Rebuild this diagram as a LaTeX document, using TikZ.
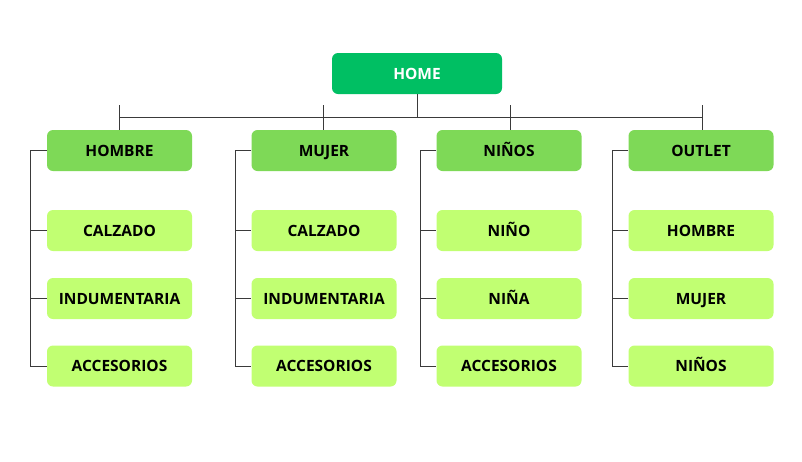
\documentclass[tikz,border=0pt]{standalone}
\usepackage{fontspec}
\setmainfont{Open Sans}
\begin{document}
\begin{tikzpicture}[x=1pt,y=-1pt,
  box/.style={rounded corners=6pt,minimum width=145pt,minimum height=41pt,inner sep=0pt,font=\fontsize{15.5}{18}\selectfont\bfseries,text=black,text height=11.2pt,text depth=0pt},
  homebox/.style={box,fill=homegreen,text=white,minimum width=170pt},
  headbox/.style={box,fill=headgreen},
  childbox/.style={box,fill=childgreen},
  link/.style={draw=linegray,line width=0.9pt}]
\definecolor{homegreen}{HTML}{00BF63}
\definecolor{headgreen}{HTML}{7ED957}
\definecolor{childgreen}{HTML}{C1FF72}
\definecolor{linegray}{HTML}{3A3A3A}
\useasboundingbox (0,0) rectangle (802,461);
\fill[white] (0,0) rectangle (802,461);

\node[homebox] (home) at (417,73.5) {HOME};

\node[headbox] (h1) at (119.5,150.5) {HOMBRE};
\node[headbox] (h2) at (324,150.5) {MUJER};
\node[headbox] (h3) at (509,150.5) {NIÑOS};
\node[headbox] (h4) at (701,150.5) {OUTLET};

\node[childbox] (a1) at (119.5,230.5) {CALZADO};
\node[childbox] (b1) at (119.5,298.5) {INDUMENTARIA};
\node[childbox] (c1) at (119.5,366) {ACCESORIOS};
\node[childbox] (a2) at (324,230.5) {CALZADO};
\node[childbox] (b2) at (324,298.5) {INDUMENTARIA};
\node[childbox] (c2) at (324,366) {ACCESORIOS};
\node[childbox] (a3) at (509,230.5) {NIÑO};
\node[childbox] (b3) at (509,298.5) {NIÑA};
\node[childbox] (c3) at (509,366) {ACCESORIOS};
\node[childbox] (a4) at (701,230.5) {HOMBRE};
\node[childbox] (b4) at (701,298.5) {MUJER};
\node[childbox] (c4) at (701,366) {NIÑOS};

\coordinate (busL) at (119,117);
\coordinate (busR) at (702,117);
\coordinate (t1) at (119,105);
\coordinate (t2) at (323,105);
\coordinate (t3) at (510,105);
\coordinate (t4) at (702,105);

\draw[link] (home.south) -- (home.south |- busL);
\draw[link] (busL) -- (busR);
\draw[link] (t1) -- (t1 |- h1.north);
\draw[link] (t2) -- (t2 |- h2.north);
\draw[link] (t3) -- (t3 |- h3.north);
\draw[link] (t4) -- (t4 |- h4.north);

\foreach \i in {1,2,3,4}{
  \draw[link] (h\i.west) -- ++(-16,0) coordinate (v\i) |- (c\i.west);
  \draw[link] (v\i |- a\i.west) -- (a\i.west);
  \draw[link] (v\i |- b\i.west) -- (b\i.west);
}
\end{tikzpicture}
\end{document}
